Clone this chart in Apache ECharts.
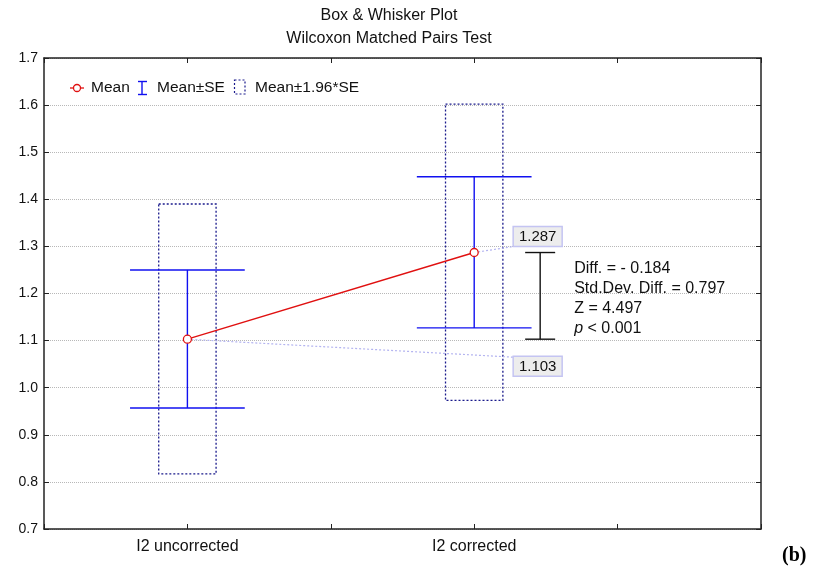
<!DOCTYPE html>
<html>
<head>
<meta charset="utf-8">
<script src="https://cdn.jsdelivr.net/npm/echarts@6/dist/echarts.min.js"></script>
<style>
  html, body { margin: 0; padding: 0; background: #fff; }
  #chart { width: 814px; height: 575px; }
</style>
</head>
<body>
<div id="chart"></div>
<script>
// Group names and their positions on the x axis
const categories = ['I2 uncorrected', 'I2 corrected'];
const groupPos = [1, 3];
// Group means
const means = [1.103, 1.287];
// Mean ± SE
const seLow = [0.957, 1.127];
const seHigh = [1.250, 1.448];
// Mean ± 1.96*SE
const ciLow = [0.817, 0.973];
const ciHigh = [1.390, 1.602];
// Y axis tick labels
const yTickLabels = ['0.7', '0.8', '0.9', '1.0', '1.1', '1.2', '1.3', '1.4', '1.5', '1.6', '1.7'];
// Test statistics printed beside the bracket
const statLines = ['Diff. = - 0.184', 'Std.Dev. Diff. = 0.797', 'Z = 4.497', '{i|p} < 0.001'];

const FONT = '"Liberation Sans", Arial, sans-serif';
const AXIS_COLOR = '#222';
const BRACKET_X = 3.46;   // x position (axis units) of the difference bracket

const chart = echarts.init(document.getElementById('chart'), null, { renderer: 'canvas' });

const yMin = parseFloat(yTickLabels[0]);
const yMax = parseFloat(yTickLabels[yTickLabels.length - 1]);

function frameAxis(extra) {
  return Object.assign({
    type: 'value',
    axisLine: { show: true, onZero: false, lineStyle: { color: AXIS_COLOR, width: 1.5 } },
    axisTick: { show: true, inside: true, length: 5, lineStyle: { color: AXIS_COLOR, width: 1 } },
    splitLine: { show: false }
  }, extra);
}

const option = {
  animation: false,
  backgroundColor: '#fff',
  textStyle: { fontFamily: FONT },
  title: {
    text: 'Box & Whisker Plot\nWilcoxon Matched Pairs Test',
    left: 389,
    top: 4,
    padding: 0,
    textAlign: 'center',
    textStyle: { fontFamily: FONT, fontSize: 16, fontWeight: 'normal', color: '#111', lineHeight: 23 }
  },
  grid: { left: 44, right: 53, top: 58, bottom: 46, containLabel: false },
  xAxis: [
    frameAxis({
      min: 0, max: 5, interval: 1, position: 'bottom',
      axisLabel: {
        show: true, margin: 10, fontSize: 16, color: '#111', fontFamily: FONT,
        formatter: v => {
          const k = groupPos.indexOf(v);
          return k >= 0 ? categories[k] : '';
        }
      }
    }),
    frameAxis({ min: 0, max: 5, interval: 1, position: 'top', axisLabel: { show: false } })
  ],
  yAxis: [
    frameAxis({
      min: yMin, max: yMax, interval: 0.1, position: 'left',
      axisLabel: {
        show: true, margin: 6, fontSize: 14, color: '#111', fontFamily: FONT,
        formatter: v => v.toFixed(1)
      },
      splitLine: { show: true, lineStyle: { type: 'dotted', color: '#b8b8b8', width: 1 } }
    }),
    frameAxis({ min: yMin, max: yMax, interval: 0.1, position: 'right', axisLabel: { show: false } })
  ],
  series: [
    {
      // Mean ± 1.96*SE boxes
      type: 'custom',
      xAxisIndex: 0, yAxisIndex: 0,
      z: 2,
      data: categories.map((c, i) => [groupPos[i], ciLow[i], ciHigh[i]]),
      renderItem(params, api) {
        const x = api.value(0);
        const lo = api.coord([x - 0.2, api.value(1)]);
        const hi = api.coord([x + 0.2, api.value(2)]);
        return {
          type: 'rect',
          shape: { x: lo[0], y: hi[1], width: hi[0] - lo[0], height: lo[1] - hi[1] },
          style: { fill: 'none', stroke: '#1a1a8c', lineWidth: 1.3, lineDash: [2, 2] }
        };
      }
    },
    {
      // Mean ± SE whiskers
      type: 'custom',
      xAxisIndex: 0, yAxisIndex: 0,
      z: 3,
      data: categories.map((c, i) => [groupPos[i], seLow[i], seHigh[i]]),
      renderItem(params, api) {
        const x = api.value(0);
        const bot = api.coord([x, api.value(1)]);
        const top = api.coord([x, api.value(2)]);
        const capL = api.coord([x - 0.4, api.value(1)])[0];
        const capR = api.coord([x + 0.4, api.value(1)])[0];
        const st = { stroke: '#1010f0', lineWidth: 1.4 };
        return {
          type: 'group',
          children: [
            { type: 'line', shape: { x1: top[0], y1: top[1], x2: bot[0], y2: bot[1] }, style: st },
            { type: 'line', shape: { x1: capL, y1: top[1], x2: capR, y2: top[1] }, style: st },
            { type: 'line', shape: { x1: capL, y1: bot[1], x2: capR, y2: bot[1] }, style: st }
          ]
        };
      }
    },
    {
      // Difference annotation: connectors, value boxes, bracket and statistics
      type: 'custom',
      xAxisIndex: 0, yAxisIndex: 0,
      z: 4,
      data: [[BRACKET_X, means[0], means[1]]],
      renderItem(params, api) {
        const bx = api.coord([api.value(0), 0])[0];
        const pLow = api.coord([groupPos[0], api.value(1)]);
        const pHigh = api.coord([groupPos[1], api.value(2)]);
        const yBot = api.coord([api.value(0), api.value(1)])[1];
        const yTop = api.coord([api.value(0), api.value(2)])[1];
        const boxW = 49, boxH = 20;
        const boxL = bx - 27;
        const upTop = yTop - 26;
        const loTop = yBot + 17;
        const conn = { stroke: '#b4b4f0', lineWidth: 1.2, lineDash: [2, 2] };
        const boxStyle = { fill: '#ededed', stroke: '#c4c4f2', lineWidth: 1.5 };
        const black = { stroke: '#111', lineWidth: 1.4 };
        const children = [
          { type: 'line', shape: { x1: pHigh[0], y1: pHigh[1], x2: boxL, y2: upTop + boxH }, style: conn },
          { type: 'line', shape: { x1: pLow[0], y1: pLow[1], x2: boxL, y2: loTop + 1 }, style: conn },
          { type: 'rect', shape: { x: boxL, y: upTop, width: boxW, height: boxH }, style: boxStyle },
          { type: 'rect', shape: { x: boxL, y: loTop, width: boxW, height: boxH }, style: boxStyle },
          { type: 'text', x: boxL + boxW / 2, y: upTop + boxH / 2 + 0.5,
            style: { text: api.value(2).toFixed(3), fill: '#111', font: '15px ' + FONT, align: 'center', verticalAlign: 'middle' } },
          { type: 'text', x: boxL + boxW / 2, y: loTop + boxH / 2 + 0.5,
            style: { text: api.value(1).toFixed(3), fill: '#111', font: '15px ' + FONT, align: 'center', verticalAlign: 'middle' } },
          { type: 'line', shape: { x1: bx, y1: yTop, x2: bx, y2: yBot }, style: black },
          { type: 'line', shape: { x1: bx - 15, y1: yTop, x2: bx + 15, y2: yTop }, style: black },
          { type: 'line', shape: { x1: bx - 15, y1: yBot, x2: bx + 15, y2: yBot }, style: black }
        ];
        statLines.forEach((t, k) => {
          children.push({
            type: 'text', x: bx + 34, y: yTop + 16 + 20 * k,
            style: {
              text: t, fill: '#111', fontFamily: FONT, fontSize: 16,
              align: 'left', verticalAlign: 'middle',
              rich: { i: { fontStyle: 'italic', fontFamily: FONT, fontSize: 16, fill: '#111' } }
            }
          });
        });
        return { type: 'group', children };
      }
    },
    {
      // Means joined by a line
      type: 'line',
      xAxisIndex: 0, yAxisIndex: 0,
      z: 5,
      data: means.map((m, i) => [groupPos[i], m]),
      symbol: 'circle',
      symbolSize: 8,
      itemStyle: { color: '#fff', borderColor: '#e01010', borderWidth: 1.3 },
      lineStyle: { color: '#e01010', width: 1.4 },
      emphasis: { disabled: true }
    }
  ],
  graphic: [
    // Legend
    { type: 'line', shape: { x1: 70, y1: 88, x2: 84, y2: 88 }, style: { stroke: '#e01010', lineWidth: 1.3 } },
    { type: 'circle', shape: { cx: 77, cy: 88, r: 3.5 }, style: { fill: '#fff', stroke: '#e01010', lineWidth: 1.3 } },
    { type: 'text', x: 91, y: 88, style: { text: 'Mean', fill: '#111', font: '15.5px ' + FONT, verticalAlign: 'middle' } },
    { type: 'line', shape: { x1: 142, y1: 81.5, x2: 142, y2: 94.5 }, style: { stroke: '#1010f0', lineWidth: 1.4 } },
    { type: 'line', shape: { x1: 138, y1: 81.5, x2: 147, y2: 81.5 }, style: { stroke: '#1010f0', lineWidth: 1.4 } },
    { type: 'line', shape: { x1: 138, y1: 94.5, x2: 147, y2: 94.5 }, style: { stroke: '#1010f0', lineWidth: 1.4 } },
    { type: 'text', x: 157, y: 88, style: { text: 'Mean±SE', fill: '#111', font: '15.5px ' + FONT, verticalAlign: 'middle' } },
    { type: 'rect', shape: { x: 234.5, y: 80, width: 10.5, height: 14 }, style: { fill: 'none', stroke: '#1a1a8c', lineWidth: 1.2, lineDash: [2, 2] } },
    { type: 'text', x: 255, y: 88, style: { text: 'Mean±1.96*SE', fill: '#111', font: '15.5px ' + FONT, verticalAlign: 'middle' } },
    // Panel letter
    { type: 'text', x: 782, y: 556, style: { text: '(b)', fill: '#000', font: 'bold 20px "Liberation Serif", "Times New Roman", serif', verticalAlign: 'middle' } }
  ]
};

chart.setOption(option);
</script>
</body>
</html>
